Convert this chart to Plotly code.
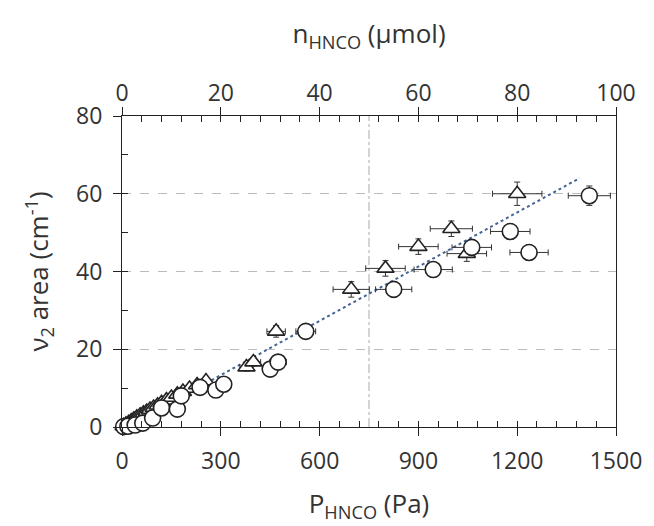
import numpy as np
import plotly.graph_objects as go

# HNCO pressure (Pa) and nu2 band area (cm^-1), two data sets
tri_p = [5, 12, 20, 28, 36, 45, 55, 65, 75, 85, 96, 108, 120, 135, 150, 168, 185, 205, 228, 255,
         378, 399, 468, 696, 800, 900, 1000, 1047, 1200]
tri_v = [0.3, 0.7, 1.1, 1.5, 2.0, 2.5, 3.0, 3.5, 4.0, 4.5, 5.0, 5.6, 6.2, 6.9, 7.6, 8.4, 9.1, 9.9, 10.8, 11.8,
         15.4, 16.7, 24.6, 35.4, 40.8, 46.4, 51.0, 44.6, 60.0]
tri_ex = [0] * 20 + [20, 22, 28, 55, 60, 60, 64, 60, 75]
tri_ey = [0] * 20 + [1.0, 1.0, 1.5, 2.0, 2.0, 2.0, 2.0, 2.0, 3.0]

circ_p = [5, 18, 40, 63, 93, 120, 168, 180, 237, 285, 309, 450, 474, 558, 825, 945, 1062, 1179, 1236, 1419]
circ_v = [0.1, 0.2, 0.5, 1.0, 2.3, 4.9, 4.6, 8.0, 10.2, 9.5, 11.0, 14.9, 16.7, 24.6, 35.4, 40.5, 46.2, 50.3, 44.9, 59.5]
circ_ex = [0] * 11 + [22, 25, 30, 55, 58, 60, 60, 58, 64]
circ_ey = [0] * 11 + [1.0, 1.0, 1.5, 2.0, 2.0, 2.0, 2.0, 2.0, 2.5]

# linear fit
fit_slope = 0.0465
fit_intercept = -0.6
fit_p = np.linspace(0, 1390, 60)

p_ref = 750
P_RANGE = [0, 1500]
N_RANGE = [0, 100]
V_RANGE = [0, 80]

FONT = "Open Sans"
BLACK = "#222"

fig = go.Figure()

fig.add_trace(go.Scatter(
    x=fit_p, y=fit_slope * fit_p + fit_intercept, mode="lines",
    line=dict(color="rgb(70,100,150)", width=2, dash="dot"), showlegend=False))

fig.add_trace(go.Scatter(
    x=tri_p, y=tri_v, mode="markers", cliponaxis=False,
    marker=dict(symbol="triangle-up", size=15, color="white", line=dict(color=BLACK, width=1.6)),
    error_x=dict(type="data", array=tri_ex, color="#333", thickness=1, width=3),
    error_y=dict(type="data", array=tri_ey, color="#333", thickness=1, width=3),
    showlegend=False))

fig.add_trace(go.Scatter(
    x=circ_p, y=circ_v, mode="markers", cliponaxis=False,
    marker=dict(symbol="circle", size=16, color="white", line=dict(color=BLACK, width=1.6)),
    error_x=dict(type="data", array=circ_ex, color="#333", thickness=1, width=3),
    error_y=dict(type="data", array=circ_ey, color="#333", thickness=1, width=3),
    showlegend=False))

# empty traces that carry the top axis and the inner (minor) tick axes
for xa, ya in [("x2", "y"), ("x3", "y"), ("x4", "y"), ("x", "y2")]:
    fig.add_trace(go.Scatter(x=[], y=[], xaxis=xa, yaxis=ya, showlegend=False, hoverinfo="skip"))

fig.add_vline(x=p_ref, line=dict(color="#aaa", width=1, dash="dashdot"), layer="below")

tick_font = dict(family=FONT, size=23, color="#333")
title_font = dict(family=FONT, size=26, color="#333")

inner = dict(ticks="inside", ticklen=6, tickcolor=BLACK, tickwidth=1, showticklabels=False,
             showline=False, showgrid=False, zeroline=False)

fig.update_layout(
    width=654, height=526,
    margin=dict(l=122, r=32, t=116, b=98),
    paper_bgcolor="white", plot_bgcolor="white",
    xaxis=dict(range=P_RANGE, tickmode="linear", tick0=0, dtick=300,
               ticks="outside", ticklen=8, tickcolor=BLACK,
               showline=True, linecolor=BLACK, linewidth=1, showgrid=False, zeroline=False,
               tickfont=tick_font, ticklabelstandoff=5,
               title=dict(text="P<sub>HNCO</sub> (Pa)", font=title_font, standoff=20)),
    xaxis2=dict(range=N_RANGE, overlaying="x", side="top", tickmode="linear", tick0=0, dtick=20,
                ticks="outside", ticklen=8, tickcolor=BLACK,
                showline=True, linecolor=BLACK, linewidth=1, showgrid=False, zeroline=False,
                tickfont=tick_font, ticklabelstandoff=-3,
                title=dict(text="n<sub>HNCO</sub> (µmol)", font=title_font, standoff=24)),
    xaxis3=dict(range=P_RANGE, overlaying="x", side="bottom", tickmode="linear", tick0=0, dtick=60, **inner),
    xaxis4=dict(range=N_RANGE, overlaying="x", side="top", tickmode="linear", tick0=0, dtick=4, **inner),
    yaxis=dict(range=V_RANGE, tickmode="linear", tick0=0, dtick=20,
               ticks="outside", ticklen=8, tickcolor=BLACK,
               showline=True, linecolor=BLACK, linewidth=1, mirror=True, zeroline=False,
               showgrid=True, gridcolor="#bbb", griddash="dash", gridwidth=1,
               tickfont=tick_font, ticklabelstandoff=6,
               title=dict(text="ν<sub>2</sub> area (cm<sup>-1</sup>)", font=title_font, standoff=19)),
    yaxis2=dict(range=V_RANGE, overlaying="y", side="left", tickmode="linear", tick0=0, dtick=10, **inner),
)

fig.write_html("out.html")
